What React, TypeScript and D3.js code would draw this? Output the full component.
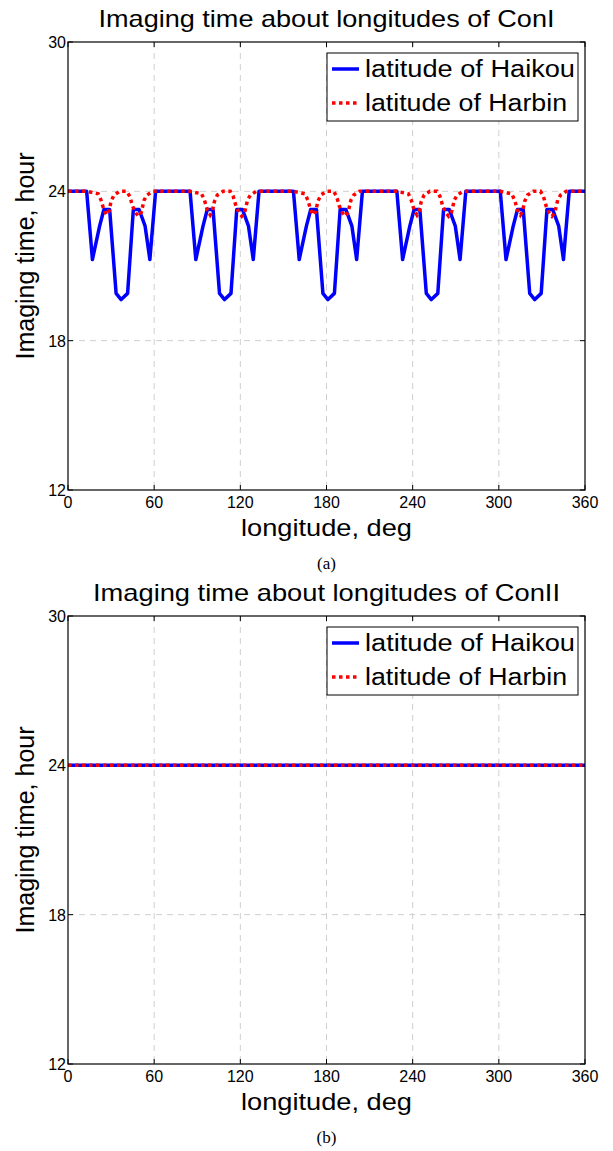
import React from "react";
import * as d3 from "d3";

// x ticks / y ticks
const lonTicks = [0, 60, 120, 180, 240, 300, 360];
const hourTicks = [12, 18, 24, 30];

// ConI, latitude of Haikou
const haikouLonI = [
  0, 13, 17, 22, 25, 29, 33.5, 37, 41.5, 45.5, 49.5, 53.7, 57, 61,
  85, 89, 94, 97, 101, 105.5, 109, 113.5, 117.5, 121.5, 125.7, 129, 133,
  157, 161, 166, 169, 173, 177.5, 181, 185.5, 189.5, 193.5, 197.7, 201, 205,
  229, 233, 238, 241, 245, 249.5, 253, 257.5, 261.5, 265.5, 269.7, 273, 277,
  301, 305, 310, 313, 317, 321.5, 325, 329.5, 333.5, 337.5, 341.7, 345, 349, 360,
];
const haikouHourI = [
  24, 24, 21.26, 22.6, 23.27, 23.27, 19.9, 19.65, 19.9, 23.27, 23.27, 22.6, 21.26, 24,
  24, 21.26, 22.6, 23.27, 23.27, 19.9, 19.65, 19.9, 23.27, 23.27, 22.6, 21.26, 24,
  24, 21.26, 22.6, 23.27, 23.27, 19.9, 19.65, 19.9, 23.27, 23.27, 22.6, 21.26, 24,
  24, 21.26, 22.6, 23.27, 23.27, 19.9, 19.65, 19.9, 23.27, 23.27, 22.6, 21.26, 24,
  24, 21.26, 22.6, 23.27, 23.27, 19.9, 19.65, 19.9, 23.27, 23.27, 22.6, 21.26, 24, 24,
];

// ConI, latitude of Harbin
const harbinLonI = [
  0,
  13, 21, 23, 25, 27, 28.5, 30, 32, 36, 41, 43, 45, 47, 49, 51, 53, 55, 59,
  85, 93, 95, 97, 99, 100.5, 102, 104, 108, 113, 115, 117, 119, 121, 123, 125, 127, 131,
  157, 165, 167, 169, 171, 172.5, 174, 176, 180, 185, 187, 189, 191, 193, 195, 197, 199, 203,
  229, 237, 239, 241, 243, 244.5, 246, 248, 252, 257, 259, 261, 263, 265, 267, 269, 271, 275,
  301, 309, 311, 313, 315, 316.5, 318, 320, 324, 329, 331, 333, 335, 337, 339, 341, 343, 347,
  360,
];
const harbinHourI = [
  24,
  24, 23.9, 23.65, 23.25, 23.05, 23.2, 23.6, 23.85, 24, 24, 23.8, 23.4, 23.15, 23.0, 23.15, 23.65, 23.85, 24,
  24, 23.9, 23.65, 23.25, 23.05, 23.2, 23.6, 23.85, 24, 24, 23.8, 23.4, 23.15, 23.0, 23.15, 23.65, 23.85, 24,
  24, 23.9, 23.65, 23.25, 23.05, 23.2, 23.6, 23.85, 24, 24, 23.8, 23.4, 23.15, 23.0, 23.15, 23.65, 23.85, 24,
  24, 23.9, 23.65, 23.25, 23.05, 23.2, 23.6, 23.85, 24, 24, 23.8, 23.4, 23.15, 23.0, 23.15, 23.65, 23.85, 24,
  24, 23.9, 23.65, 23.25, 23.05, 23.2, 23.6, 23.85, 24, 24, 23.8, 23.4, 23.15, 23.0, 23.15, 23.65, 23.85, 24,
  24,
];

// ConII: both flat at 24 h
const haikouLonII = [0, 360];
const haikouHourII = [24, 24];
const harbinLonII = [0, 360];
const harbinHourII = [24, 24];

const FONT = "'Liberation Sans', Arial, Helvetica, sans-serif";

type Pt = [number, number];
const zip = (xs: number[], ys: number[]): Pt[] => xs.map((x, i) => [x, ys[i]]);

function Panel({ top, title, titleLen, caption, blue, red }: {
  top: number; title: string; titleLen: number; caption: string; blue: Pt[]; red: Pt[];
}) {
  const left = 68, right = 585, pTop = top + 42, pBot = top + 490;
  const cx = (left + right) / 2;
  const x = d3.scaleLinear().domain([0, 360]).range([left, right]);
  const y = d3.scaleLinear().domain([12, 30]).range([pBot, pTop]);
  const line = d3.line<Pt>().x((d) => x(d[0])).y((d) => y(d[1]));
  const tk = 5;
  const lx = 327, ly = top + 53;
  return (
    <g fontFamily={FONT}>
      <text x={cx} y={top + 27} textAnchor="middle" fontSize={24} textLength={titleLen} lengthAdjust="spacingAndGlyphs">{title}</text>
      {/* grid */}
      {lonTicks.slice(1, -1).map((t) => (
        <line key={"gx" + t} x1={x(t)} x2={x(t)} y1={pTop} y2={pBot} stroke="#cfcfcf" strokeDasharray="6,5" />
      ))}
      {hourTicks.slice(1, -1).map((t) => (
        <line key={"gy" + t} x1={left} x2={right} y1={y(t)} y2={y(t)} stroke="#cfcfcf" strokeDasharray="6,5" />
      ))}
      {/* ticks */}
      {lonTicks.map((t) => (
        <g key={"tx" + t}>
          <line x1={x(t)} x2={x(t)} y1={pBot} y2={pBot - tk} stroke="#000" />
          <line x1={x(t)} x2={x(t)} y1={pTop} y2={pTop + tk} stroke="#000" />
          <text x={x(t)} y={pBot + 18} textAnchor="middle" fontSize={16}>{t}</text>
        </g>
      ))}
      {hourTicks.map((t) => (
        <g key={"ty" + t}>
          <line x1={left} x2={left + tk} y1={y(t)} y2={y(t)} stroke="#000" />
          <line x1={right} x2={right - tk} y1={y(t)} y2={y(t)} stroke="#000" />
          <text x={left - 2} y={y(t) + 6} textAnchor="end" fontSize={16}>{t}</text>
        </g>
      ))}
      <path d={line(blue) ?? ""} fill="none" stroke="#0000ff" strokeWidth={3.5} strokeLinejoin="round" />
      <path d={line(red) ?? ""} fill="none" stroke="#ff0000" strokeWidth={3.5} strokeDasharray="3.5,3.5" />
      <rect x={left} y={pTop} width={right - left} height={pBot - pTop} fill="none" stroke="#000" strokeWidth={1.2} />
      {/* legend */}
      <rect x={lx} y={ly} width={251} height={68} fill="#fff" stroke="#000" />
      <line x1={lx + 5} x2={lx + 32} y1={ly + 16} y2={ly + 16} stroke="#0000ff" strokeWidth={3.5} />
      <text x={lx + 38} y={ly + 24} fontSize={23} textLength={210} lengthAdjust="spacingAndGlyphs">latitude of Haikou</text>
      <line x1={lx + 5} x2={lx + 32} y1={ly + 50} y2={ly + 50} stroke="#ff0000" strokeWidth={3.5} strokeDasharray="3.5,3.5" />
      <text x={lx + 38} y={ly + 58} fontSize={23} textLength={202} lengthAdjust="spacingAndGlyphs">latitude of Harbin</text>
      {/* axis labels */}
      <text x={cx} y={top + 536} textAnchor="middle" fontSize={24} textLength={171} lengthAdjust="spacingAndGlyphs">longitude, deg</text>
      <text transform={`translate(34,${top + 256}) rotate(-90)`} textAnchor="middle" fontSize={25}>Imaging time, hour</text>
      <text x={cx} y={top + 569} textAnchor="middle" fontSize={17} fontFamily="'Liberation Serif', 'Times New Roman', serif">{caption}</text>
    </g>
  );
}

export default function App() {
  return (
    <svg width={613} height={1151} style={{ position: "absolute", left: 0, top: 0, background: "#fff" }}>
      <Panel top={0} title="Imaging time about longitudes of ConI" titleLen={456} caption="(a)"
        blue={zip(haikouLonI, haikouHourI)} red={zip(harbinLonI, harbinHourI)} />
      <Panel top={574} title="Imaging time about longitudes of ConII" titleLen={467} caption="(b)"
        blue={zip(haikouLonII, haikouHourII)} red={zip(harbinLonII, harbinHourII)} />
    </svg>
  );
}
